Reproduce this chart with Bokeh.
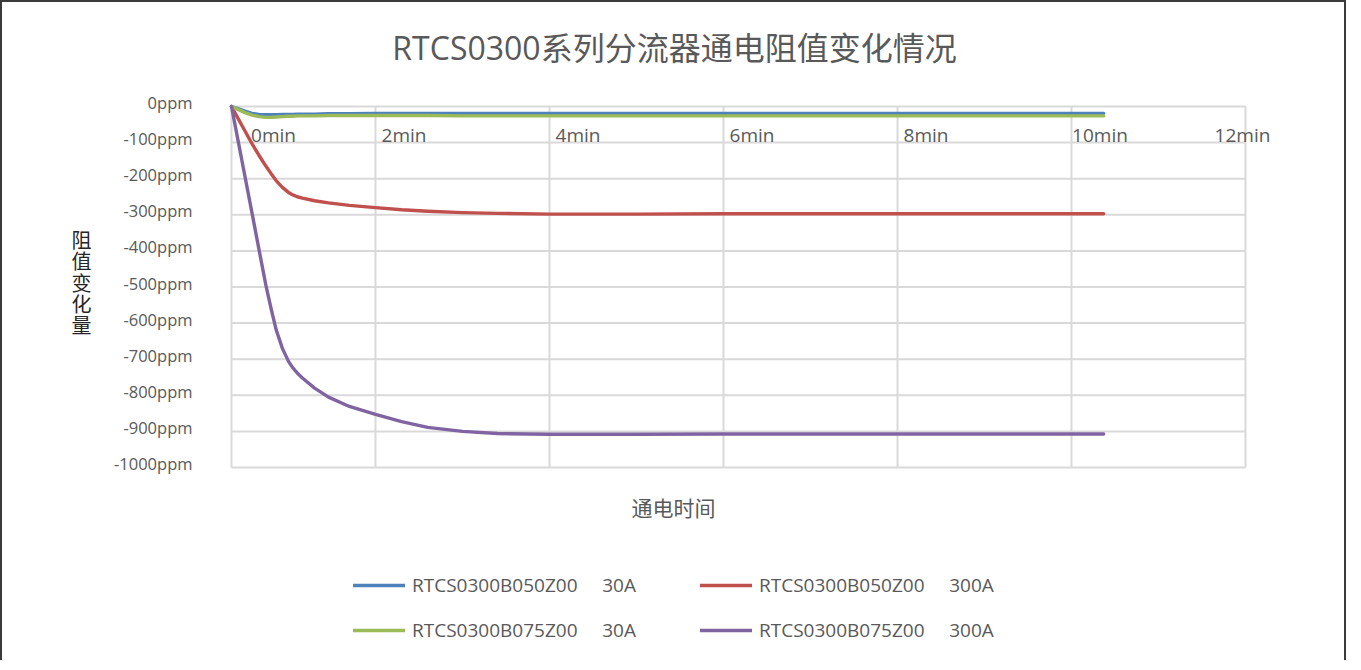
from bokeh.plotting import figure
from bokeh.models import Range1d, Label, Legend, LegendItem, ColumnDataSource
from bokeh.core.properties import value
from bokeh.embed import file_html
from bokeh.resources import INLINE

# ---------------- data ----------------
title_text = "RTCS0300系列分流器通电阻值变化情况"
x_title = "通电时间"
y_title_chars = ["阻", "值", "变", "化", "量"]

time_min = [0.345, 0.42, 0.5, 0.58, 0.66, 0.74, 0.8, 0.86, 0.93, 1.0, 1.05, 1.1, 1.16,
            1.3, 1.46, 1.7, 2.0, 2.3, 2.6, 3.0, 3.4, 4.0, 5.0, 6.0, 7.0, 8.0, 9.0,
            10.0, 10.37]

b050_30A = [0, -6, -13, -19, -22, -23, -23, -23, -22, -22, -22, -21, -21,
            -21, -20, -20, -19, -19, -19, -19, -19, -19, -19, -19, -19, -19, -19,
            -19, -19]
b050_300A = [0, -33, -68, -103, -135, -165, -186, -206, -224, -238, -245, -250, -254,
             -261, -267, -274, -280, -286, -290, -294, -296, -298, -298, -297, -297, -297, -297,
             -297, -297]
b075_30A = [0, -8, -17, -24, -28, -30, -30, -29, -28, -27, -27, -26, -26,
            -26, -25, -25, -25, -25, -25, -26, -26, -26, -26, -26, -26, -26, -26,
            -26, -26]
b075_300A = [0, -94, -194, -294, -395, -495, -560, -620, -670, -706, -724, -738, -752,
             -780, -805, -831, -853, -873, -889, -900, -906, -908, -908, -907, -907, -907, -907,
             -907, -907]

GAP = "\u00a0" * 5
series_labels = ["RTCS0300B050Z00" + GAP + "30A",
                 "RTCS0300B050Z00" + GAP + "300A",
                 "RTCS0300B075Z00" + GAP + "30A",
                 "RTCS0300B075Z00" + GAP + "300A"]
series_colors = ["#4F81BD", "#C0504D", "#9BBB59", "#8064A2"]

x_ticks = [0, 2, 4, 6, 8, 10, 12]
x_tick_labels = ["0min", "2min", "4min", "6min", "8min", "10min", "12min"]
y_ticks = [0, -100, -200, -300, -400, -500, -600, -700, -800, -900, -1000]
y_tick_labels = ["0ppm", "-100ppm", "-200ppm", "-300ppm", "-400ppm", "-500ppm",
                 "-600ppm", "-700ppm", "-800ppm", "-900ppm", "-1000ppm"]

# ---------------- layout / style ----------------
FONT = "Open Sans, Noto Sans CJK SC"
TXT = "#595959"
GRID = "#d9d9d9"

W, H = 1346, 660
AREA_L, AREA_R, AREA_T, AREA_B = 229, 1243, 104, 465   # plot area in canvas pixels
x_start, x_end = time_min[0], x_ticks[-1]
y_lo, y_hi = y_ticks[-1], y_ticks[0]
ppx = (AREA_R - AREA_L) / (x_end - x_start)
ppy = (AREA_B - AREA_T) / (y_hi - y_lo)

p = figure(width=W, height=H, output_backend="svg", toolbar_location=None,
           x_range=Range1d(x_start - AREA_L / ppx, x_end + (W - AREA_R) / ppx),
           y_range=Range1d(y_lo - (H - AREA_B) / ppy, y_hi + AREA_T / ppy),
           min_border=0)
p.styles = {"border-left": "2px solid #3a3a3a", "border-top": "2px solid #3a3a3a",
            "border-right": "2px solid #3a3a3a"}
p.outline_line_color = None
p.background_fill_color = "white"
p.border_fill_color = "white"
p.xaxis.visible = False
p.yaxis.visible = False
p.grid.visible = False

# grid lines and plot-area border
vx = [x_start] + [t for t in x_ticks if x_start < t <= x_end]
p.segment(x0=vx, y0=[y_lo] * len(vx), x1=vx, y1=[y_hi] * len(vx),
          line_color=GRID, line_width=2)
p.segment(x0=[x_start] * len(y_ticks), y0=y_ticks, x1=[x_end] * len(y_ticks), y1=y_ticks,
          line_color=GRID, line_width=2)

# y tick labels
p.text(x=[x_start] * len(y_ticks), y=y_ticks, text=y_tick_labels, x_offset=-39, y_offset=-4,
       text_align="right", text_baseline="middle", text_font=value(FONT),
       text_font_size="16.5px", text_color=TXT)

# x tick labels drawn inside the plot area, as in the reference
xl_src = ColumnDataSource(dict(
    x=[max(t, x_start) for t in x_ticks],
    y=[y_hi] * len(x_ticks),
    text=x_tick_labels,
    xoff=[42, 28.5, 28.5, 28.5, 28.5, 28.5, -3],
))
p.text(x="x", y="y", text="text", x_offset="xoff", y_offset=28, source=xl_src,
       text_align="center", text_baseline="middle", text_font=value(FONT),
       text_font_size="19px", text_color=TXT)

series = [b050_30A, b050_300A, b075_30A, b075_300A]
renderers = []
for vals, col in zip(series, series_colors):
    r = p.line(time_min, vals, line_color=col, line_width=3.4, line_cap="round",
               line_join="round")
    renderers.append(r)

legend = Legend(items=[LegendItem(label=l, renderers=[r]) for l, r in zip(series_labels, renderers)],
                location=(351, 19), orientation="horizontal", ncols=2,
                glyph_width=52, glyph_height=22, label_height=22, label_width=269,
                label_standoff=7, spacing=19, padding=0, margin=0,
                border_line_alpha=0, background_fill_alpha=0,
                label_text_font=FONT, label_text_font_size="19px", label_text_color=TXT)
p.add_layout(legend)

p.add_layout(Label(x=672, y=615, x_units="screen", y_units="screen", text=title_text,
                   text_align="center", text_baseline="middle", text_font=FONT,
                   text_font_size="32px", text_color=TXT))
p.add_layout(Label(x=671, y=155, x_units="screen", y_units="screen", text=x_title,
                   text_align="center", text_baseline="middle", text_font=FONT,
                   text_font_size="21px", text_color=TXT))
for i, ch in enumerate(y_title_chars):
    p.add_layout(Label(x=79, y=422 - 21.3 * i, x_units="screen", y_units="screen", text=ch,
                       text_align="center", text_baseline="middle", text_font=FONT,
                       text_font_size="20px", text_color="#262626"))

open("out.html", "w").write(file_html(p, INLINE))
